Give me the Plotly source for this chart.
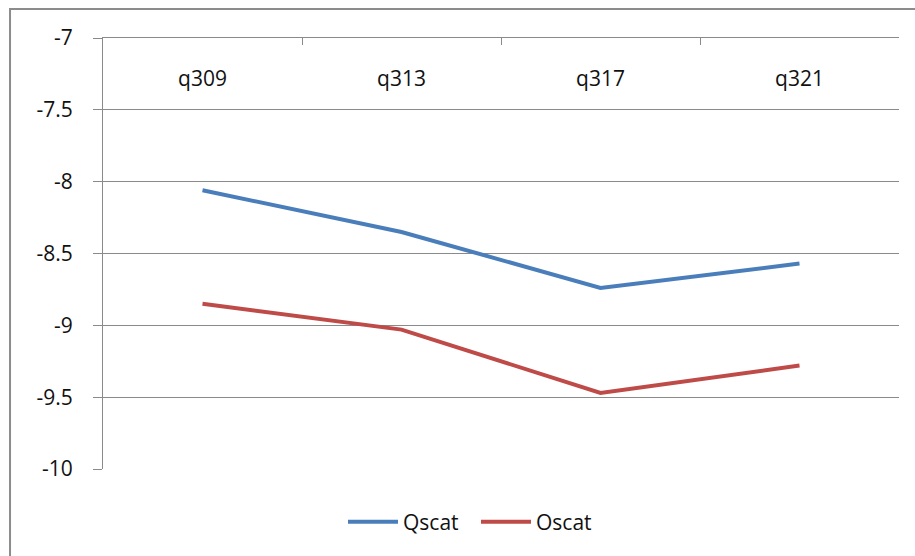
import plotly.graph_objects as go

# Category labels and series values
categories = ["q309", "q313", "q317", "q321"]
qscat = [-8.06, -8.35, -8.74, -8.57]
oscat = [-8.85, -9.03, -9.47, -9.28]

# Value axis ticks
y_tickvals = [-10, -9.5, -9, -8.5, -8, -7.5, -7]
y_ticktext = ["-10", "-9.5", "-9", "-8.5", "-8", "-7.5", "-7"]

FONT = "Open Sans"
GRID = "#8a8a8a"
TEXT = "#111111"

fig = go.Figure()
fig.add_trace(go.Scatter(
    x=categories, y=qscat, name="Qscat", mode="lines",
    line=dict(color="#4a7ebb", width=4),
))
fig.add_trace(go.Scatter(
    x=categories, y=oscat, name="Oscat", mode="lines",
    line=dict(color="#be4b48", width=4),
))
# invisible trace carrying the top category axis with boundary ticks
fig.add_trace(go.Scatter(
    x=categories, y=qscat, xaxis="x2", mode="lines",
    line=dict(width=0), hoverinfo="skip", showlegend=False, opacity=0,
))

fig.update_layout(
    width=915, height=556,
    margin=dict(l=103, r=16, t=38, b=87),
    paper_bgcolor="white", plot_bgcolor="white",
    font=dict(family=FONT, size=21, color=TEXT),
    showlegend=True,
    legend=dict(
        orientation="h", x=0.3015, y=-0.123, xanchor="left", yanchor="middle",
        font=dict(family=FONT, size=21, color=TEXT),
        itemwidth=50, tracegroupgap=0,
        entrywidth=68, entrywidthmode="pixels",
    ),
    # category labels sit just under the top edge of the plot
    xaxis=dict(
        type="category", side="bottom", anchor="free", position=0.94,
        showline=False, showgrid=False, zeroline=False, ticks="",
        tickfont=dict(family=FONT, size=21, color=TEXT),
        range=[-0.5, 3.5],
    ),
    # top axis line with tick marks between categories
    xaxis2=dict(
        type="category", side="top", overlaying="x", anchor="y",
        showline=True, linecolor=GRID, linewidth=1,
        showgrid=False, zeroline=False, showticklabels=False,
        ticks="inside", tickson="boundaries", ticklen=7, tickcolor=GRID,
        range=[-0.5, 3.5],
    ),
    yaxis=dict(
        range=[-10, -7],
        tickvals=y_tickvals, ticktext=y_ticktext,
        showline=True, linecolor=GRID, linewidth=1,
        showgrid=True, gridcolor=GRID, gridwidth=1,
        zeroline=False,
        ticks="outside", ticklen=9, tickcolor=GRID,
        ticklabelstandoff=16,
        tickfont=dict(family=FONT, size=21, color=TEXT),
    ),
    shapes=[
        # outer chart frame
        dict(type="rect", xref="paper", yref="paper",
             x0=-0.1168, x1=1.03, y0=-0.22, y1=1.0673,
             line=dict(color="#8c8c8c", width=2), fillcolor="rgba(0,0,0,0)",
             layer="below"),
    ],
)

fig.write_html("out.html")
